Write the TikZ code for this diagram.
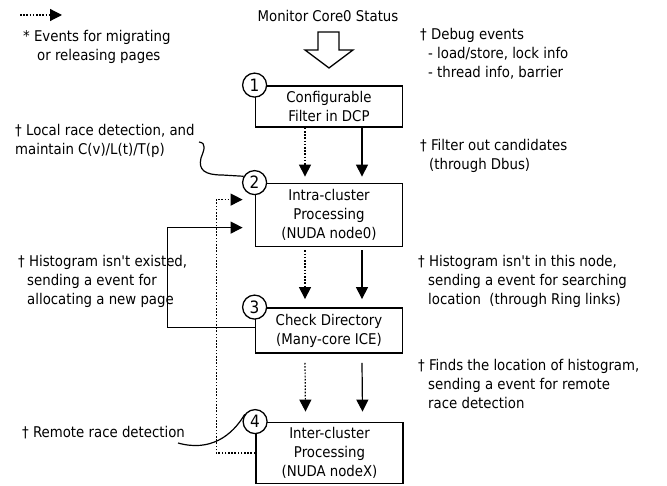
\documentclass[tikz,border=0pt]{standalone}
\usepackage{fontspec}
\newfontfamily\dv{DejaVu Sans Condensed}
\usetikzlibrary{arrows.meta,calc}
\begin{document}
\begin{tikzpicture}[x=1pt,y=-1pt,
  txt/.style={font=\fontsize{14.8}{19}\dv, inner sep=0pt, anchor=base west},
  box/.style={draw, line width=1.8pt, minimum width=147pt, align=center,
    font=\fontsize{14.8}{19}\dv, inner sep=0pt},
  num/.style={draw, circle, fill=white, line width=1.3pt, minimum size=24pt,
    inner sep=0pt, font=\fontsize{17}{17}\dv},
  tip/.style={-{Triangle[length=12pt,width=12pt]}, line width=1.2pt},
  dots/.style={dash pattern=on 1.6pt off 1.6pt},
  wire/.style={line width=1.2pt}
]
\useasboundingbox (0,0) rectangle (667,486);

% legend
\coordinate (lg0) at (20,15);
\coordinate (lg1) at (62,15);
\draw[tip,dots] (lg0) -- (lg1);
\node[txt] (lgA) at (23,42) {* Events for migrating};
\node[txt] (lgB) at (37,61) {or releasing pages};

% input
\node[txt, anchor=base] (title) at (328,22) {Monitor Core0 Status};
\draw[line width=1.3pt, line join=miter]
  (318,32) -- (339,32) -- (339,50) -- (353,50) -- (329,68) -- (305,50) -- (318,50) -- cycle;

% processing stages
\node[box, minimum height=41pt] (b1) at (329,106.5) {Configurable\\Filter in DCP};
\node[box, minimum height=63pt] (b2) at (329,215) {Intra-cluster\\Processing\\(NUDA node0)};
\node[box, minimum height=45pt] (b3) at (329,330.5) {Check Directory\\(Many-core ICE)};
\node[box, minimum height=61pt] (b4) at (329.5,453) {Inter-cluster\\Processing\\(NUDA nodeX)};

\node[num] (c1) at (b1.north west) {1};
\node[num] (c2) at (b2.north west) {2};
\node[num] (c3) at (b3.north west) {3};
\node[num] (c4) at (b4.north west) {4};

% stage-to-stage events
\draw[tip,dots] ($(b1.south)+(-24,0)$) -- ($(b2.north)+(-24,-6)$);
\draw[tip]      ($(b1.south)+(33,0)$)  -- ($(b2.north)+(33,-6)$);
\draw[tip,dots] ($(b2.south)+(-24,3)$) -- ($(b3.north)+(-24,-8)$);
\draw[tip]      ($(b2.south)+(33,3)$)  -- ($(b3.north)+(33,-8)$);
\draw[tip,dots] ($(b3.south)+(-24,9)$) -- ($(b4.north)+(-24,-10)$);
\draw[tip]      ($(b3.south)+(33,9)$)  -- ($(b4.north)+(33,-10)$);

% feedback paths
\coordinate (d2) at ($(b2.north west)+(-12,17)$);
\coordinate (s2) at ($(b2.north west)+(-12,45)$);
\draw[tip,dots] (b4.west) -- ++(-39,0) |- (d2);
\draw[tip] ($(b3.west)+(0,-3)$) -- ++(-87,0) |- (s2);

% left notes
\node[txt] (l1a) at (15,136) {† Local race detection, and};
\node[txt] (l1b) at (15,155) {maintain C(v)/L(t)/T(p)};
\node[txt] (l2a) at (18,267) {† Histogram isn't existed,};
\node[txt] (l2b) at (27,286) {sending a event for};
\node[txt] (l2c) at (27,305) {allocating a new page};
\node[txt] (l3a) at (22,437) {† Remote race detection};

\coordinate (k1) at (199,142);
\draw[wire] (k1) .. controls (207,143) and (204,150) .. (201,158)
  .. controls (198,170) and (205,175) .. (222,175) -- (c2.150);
\coordinate (k4) at (178,443);
\draw[wire] (k4) .. controls (210,452) and (232,436) .. (c4.145);

% right notes
\node[txt] (r1a) at (420,40) {† Debug events};
\node[txt] (r1b) at (428,59) {- load/store, lock info};
\node[txt] (r1c) at (428,78) {- thread info, barrier};
\node[txt] (r2a) at (420,151) {† Filter out candidates};
\node[txt] (r2b) at (429,170) {(through Dbus)};
\node[txt] (r3a) at (418,267) {† Histogram isn't in this node,};
\node[txt] (r3b) at (428,286) {sending a event for searching};
\node[txt] (r3c) at (428,305) {location~ (through Ring links)};
\node[txt] (r4a) at (418,371) {† Finds the location of histogram,};
\node[txt] (r4b) at (428,390) {sending a event for remote};
\node[txt] (r4c) at (428,409) {race detection};
\end{tikzpicture}
\end{document}
